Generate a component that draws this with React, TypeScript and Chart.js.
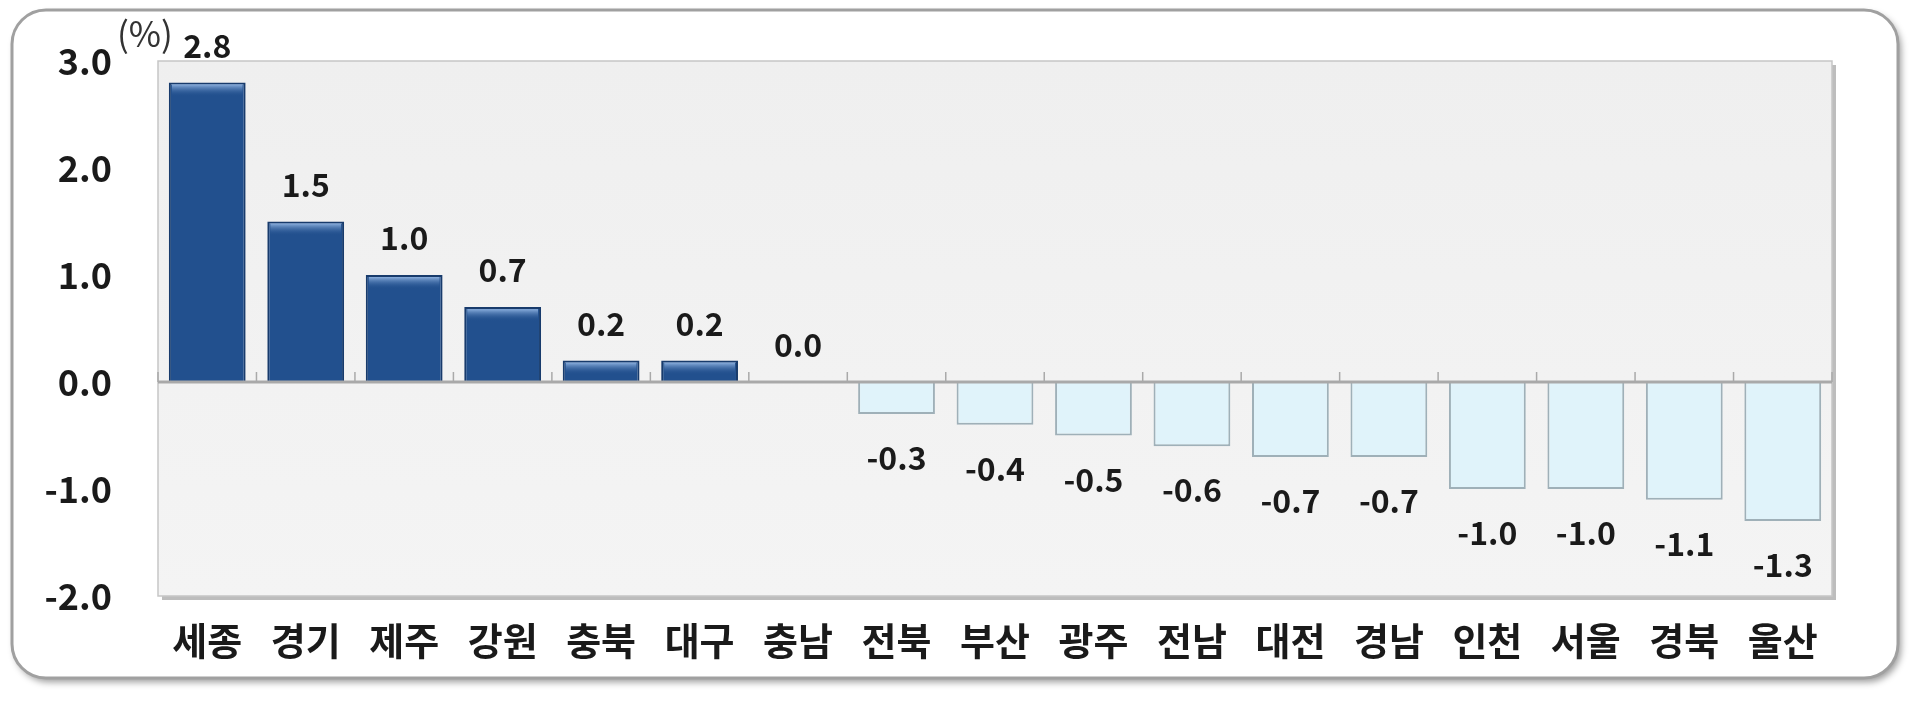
import React, { useEffect, useRef } from "react";
import { Chart, registerables } from "chart.js";

Chart.register(...registerables);

// regional change, sorted high to low
const regions = ["세종", "경기", "제주", "강원", "충북", "대구", "충남", "전북", "부산", "광주", "전남", "대전", "경남", "인천", "서울", "경북", "울산"];
const changes = [2.8, 1.5, 1.0, 0.7, 0.2, 0.2, 0.0, -0.3, -0.4, -0.5, -0.6, -0.7, -0.7, -1.0, -1.0, -1.1, -1.3];
const yMin = -2;
const yMax = 3;
const unitLabel = "(%)";

const FONT = '"Noto Sans CJK KR", "Noto Sans", sans-serif';

const framePlugin = {
	id: "frame",
	beforeDraw(chart: any) {
		const { ctx, chartArea: a } = chart;
		ctx.save();
		// outer rounded card
		ctx.beginPath();
		ctx.roundRect(12, 10, chart.width - 34, chart.height - 40, 34);
		ctx.shadowColor = "rgba(0,0,0,0.4)";
		ctx.shadowBlur = 7;
		ctx.shadowOffsetX = 3;
		ctx.shadowOffsetY = 4;
		ctx.fillStyle = "#ffffff";
		ctx.fill();
		ctx.shadowColor = "transparent";
		ctx.lineWidth = 3;
		ctx.strokeStyle = "#a0a0a0";
		ctx.stroke();

		// plot box with a soft shadow
		ctx.fillStyle = "#bdbdbd";
		ctx.fillRect(a.left + 4, a.top + 4, a.width, a.height);
		const g = ctx.createLinearGradient(0, a.top, 0, a.bottom);
		g.addColorStop(0, "#efefef");
		g.addColorStop(1, "#f4f4f4");
		ctx.fillStyle = g;
		ctx.fillRect(a.left, a.top, a.width, a.height);
		ctx.strokeStyle = "#c6c6c6";
		ctx.lineWidth = 1.5;
		ctx.strokeRect(a.left, a.top, a.width, a.height);

		// unit next to the top tick
		ctx.font = `35px ${FONT}`;
		ctx.fillStyle = "#333";
		ctx.textAlign = "left";
		ctx.textBaseline = "middle";
		ctx.fillText(unitLabel, a.left - 41, a.top - 27);
		ctx.restore();
	},
	afterDatasetsDraw(chart: any) {
		const { ctx, chartArea: a } = chart;
		const y0 = chart.scales.y.getPixelForValue(0);
		const n = regions.length;
		const meta = chart.getDatasetMeta(0);
		ctx.save();

		// bevel highlight on the positive bars
		meta.data.forEach((bar: any, i: number) => {
			if (changes[i] <= 0) return;
			const w = bar.width;
			const h = Math.min(12, y0 - bar.y - 3);
			if (h <= 0) return;
			const g = ctx.createLinearGradient(0, bar.y + 2, 0, bar.y + 2 + h);
			g.addColorStop(0, "rgba(150,185,230,0.9)");
			g.addColorStop(1, "rgba(34,80,142,0)");
			ctx.fillStyle = g;
			ctx.fillRect(bar.x - w / 2 + 3, bar.y + 2, w - 6, h);
		});

		// zero axis with small category ticks
		ctx.strokeStyle = "#a9a9a9";
		ctx.lineWidth = 3;
		ctx.beginPath();
		ctx.moveTo(a.left, y0);
		ctx.lineTo(a.right, y0);
		ctx.stroke();
		ctx.lineWidth = 1.5;
		for (let i = 0; i <= n; i++) {
			const x = a.left + (i * a.width) / n;
			ctx.beginPath();
			ctx.moveTo(x, y0);
			ctx.lineTo(x, y0 - 10);
			ctx.stroke();
		}

		// value labels
		ctx.font = `bold 32px ${FONT}`;
		ctx.fillStyle = "#1a1a1a";
		ctx.textAlign = "center";
		ctx.textBaseline = "middle";
		meta.data.forEach((bar: any, i: number) => {
			const v = changes[i];
			const y = v >= 0 ? bar.y - 37 : bar.y + 44;
			ctx.fillText(v.toFixed(1), bar.x, y);
		});
		ctx.restore();
	},
};

const App: React.FC = () => {
	const chartRef = useRef<HTMLCanvasElement>(null);

	useEffect(() => {
		document.body.style.margin = "0";
		if (!chartRef.current) return;
		const myChart = new Chart(chartRef.current, {
			type: "bar",
			data: {
				labels: regions,
				datasets: [
					{
						data: changes,
						backgroundColor: changes.map((v) => (v >= 0 ? "#22508e" : "#e0f3fa")),
						borderColor: changes.map((v) => (v >= 0 ? "#183b6c" : "#9fb0b8")),
						borderWidth: 2,
						barPercentage: 0.78,
						categoryPercentage: 1.0,
					},
				],
			},
			options: {
				animation: false,
				responsive: true,
				maintainAspectRatio: false,
				layout: { padding: { top: 61, right: 88, left: 0, bottom: 0 } },
				plugins: {
					legend: { display: false },
					tooltip: { enabled: false },
				},
				scales: {
					x: {
						grid: { display: false, drawTicks: false },
						border: { display: false },
						ticks: {
							autoSkip: false,
							maxRotation: 0,
							padding: 22,
							color: "#1a1a1a",
							font: { family: FONT, size: 38, weight: "bold" },
						},
						afterFit: (scale: any) => {
							scale.height = 112;
							scale.paddingLeft = 0;
							scale.paddingRight = 0;
						},
					},
					y: {
						min: yMin,
						max: yMax,
						grid: { display: false, drawTicks: false },
						border: { display: false },
						ticks: {
							stepSize: 1,
							padding: 46,
							color: "#1a1a1a",
							font: { family: FONT, size: 36, weight: "bold" },
							callback: (v: any) => Number(v).toFixed(1),
						},
						afterFit: (scale: any) => {
							scale.width = 158;
							scale.paddingTop = 0;
							scale.paddingBottom = 0;
						},
					},
				},
			},
			plugins: [framePlugin],
		});

		return () => {
			myChart.destroy();
		};
	}, []);

	return (
		<div style={{ position: "relative", width: 1920, height: 708 }}>
			<canvas ref={chartRef} />
		</div>
	);
};

export default App;
